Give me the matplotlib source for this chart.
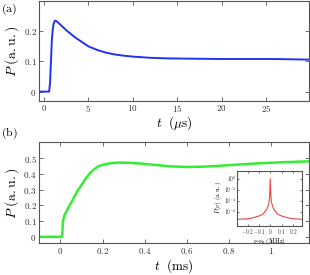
import matplotlib
matplotlib.use("Agg")
import matplotlib.pyplot as plt
import numpy as np

plt.rcParams['mathtext.fontset'] = 'cm'
plt.rcParams['font.family'] = ['DejaVu Serif']

# panel (a): pulse response, t in microseconds
t_a = [-0.5, 0.6, 0.7, 0.8, 0.9, 1.0, 1.1, 1.25, 1.4, 1.6, 2.0, 2.5, 3.0, 3.5, 4.0,
       5.0, 6.0, 7.0, 8.0, 9.0, 10.0, 12.0, 14.0, 17.0, 20.0, 23.0, 26.0, 29.8]
p_a = [0.0, 0.0, 0.03, 0.10, 0.17, 0.205, 0.225, 0.235, 0.234, 0.229, 0.218, 0.204,
       0.192, 0.180, 0.170, 0.150, 0.138, 0.129, 0.123, 0.119, 0.116, 0.112, 0.110,
       0.109, 0.108, 0.108, 0.108, 0.106]

# panel (b): t in ms
t_b = [-0.1, 0.008, 0.012, 0.02, 0.04, 0.06, 0.08, 0.10, 0.12, 0.14, 0.16, 0.18,
       0.20, 0.24, 0.28, 0.32, 0.38, 0.45, 0.52, 0.60, 0.68, 0.76, 0.85, 0.95, 1.05, 1.18]
p_b = [0.0, 0.0, 0.10, 0.14, 0.19, 0.24, 0.29, 0.33, 0.37, 0.405, 0.43, 0.448,
       0.458, 0.468, 0.472, 0.471, 0.466, 0.457, 0.448, 0.444, 0.446, 0.452, 0.46,
       0.468, 0.474, 0.48]

# inset spectrum
nu = [-0.29, -0.25, -0.2, -0.15, -0.1, -0.07, -0.05, -0.03, -0.02, -0.01, -0.005, 0.0,
      0.005, 0.01, 0.02, 0.03, 0.05, 0.07, 0.1, 0.15, 0.2, 0.25, 0.28]
spec = [4e-8, 4.5e-8, 5e-8, 8e-8, 1.6e-7, 3e-7, 8e-7, 3e-6, 1e-5, 6e-5, 1e-3, 1.0,
        1e-3, 6e-5, 1e-5, 3e-6, 8e-7, 3e-7, 1.6e-7, 8e-8, 5e-8, 4.5e-8, 4e-8]

frame = '#555555'


def style(ax, fs=6.5):
    for s in ax.spines.values():
        s.set_color(frame)
        s.set_linewidth(0.8)
    ax.tick_params(direction='in', top=True, right=True, length=3, width=0.6,
                   color=frame, labelcolor='#333333', labelsize=fs, pad=2)


fig = plt.figure(figsize=(3.1, 2.75), dpi=100)

ax1 = fig.add_axes([0.127, 0.634, 0.870, 0.362])
ax1.plot(t_a, p_a, color='#2233ee', lw=1.4)
ax1.set_xlim(-0.5, 29.8)
ax1.set_ylim(-0.03, 0.3)
ax1.set_xticks([0, 5, 10, 15, 20, 25])
ax1.set_xticklabels([f'${v}$' for v in [0, 5, 10, 15, 20, 25]])
ax1.set_yticks([0, 0.1, 0.2])
ax1.set_yticklabels(['$0$', '$0.1$', '$0.2$'])
style(ax1)
ax1.set_xlabel(r'$t\ \ (\mu\mathrm{s})$', fontsize=9.5, labelpad=0)
ax1.set_ylabel(r'$P\ (\mathrm{a.u.})$', fontsize=10, labelpad=2)
fig.text(0.003, 0.992, r'$\mathrm{(a)}$', fontsize=8.5, va='top')

ax2 = fig.add_axes([0.127, 0.116, 0.870, 0.366])
ax2.plot(t_b, p_b, color='#33ee33', lw=1.8)
ax2.set_xlim(-0.1, 1.18)
ax2.set_ylim(-0.04, 0.6)
ax2.set_xticks([0, 0.2, 0.4, 0.6, 0.8, 1])
ax2.set_xticklabels([f'${v:g}$' for v in [0, 0.2, 0.4, 0.6, 0.8, 1]])
ax2.set_yticks([0, 0.1, 0.2, 0.3, 0.4, 0.5])
ax2.set_yticklabels([f'${v:g}$' for v in [0, 0.1, 0.2, 0.3, 0.4, 0.5]])
style(ax2)
ax2.set_xlabel(r'$t\ \ (\mathrm{ms})$', fontsize=9.5, labelpad=1)
ax2.set_ylabel(r'$P\ (\mathrm{a.u.})$', fontsize=10, labelpad=2)
fig.text(0.003, 0.515, r'$\mathrm{(b)}$', fontsize=8.5, va='center')

ax3 = fig.add_axes([0.766, 0.180, 0.208, 0.200])
ax3.semilogy(nu, spec, color='#ee4444', lw=0.8)
ax3.set_xlim(-0.29, 0.28)
ax3.set_ylim(3e-9, 3e1)
ax3.set_xticks([-0.2, -0.1, 0, 0.1, 0.2])
ax3.set_xticklabels(['$-0.2$', '$-0.1$', '$0$', '$0.1$', '$0.2$'])
ax3.set_yticks([1e0, 1e-2, 1e-4, 1e-6])
ax3.set_yticklabels(['$10^{0}$', '$10^{-2}$', '$10^{-4}$', '$10^{-6}$'])
ax3.minorticks_off()
style(ax3, fs=3.8)
ax3.tick_params(length=1.5, pad=0.8)
ax3.set_xlabel(r'$\nu$-$\nu_0\ (\mathrm{MHz})$', fontsize=4.6, labelpad=0.2)
ax3.set_ylabel(r'$P(\nu)\ (\mathrm{a.u.})$', fontsize=4.6, labelpad=0.3)

fig.savefig('out.png', dpi=100)
